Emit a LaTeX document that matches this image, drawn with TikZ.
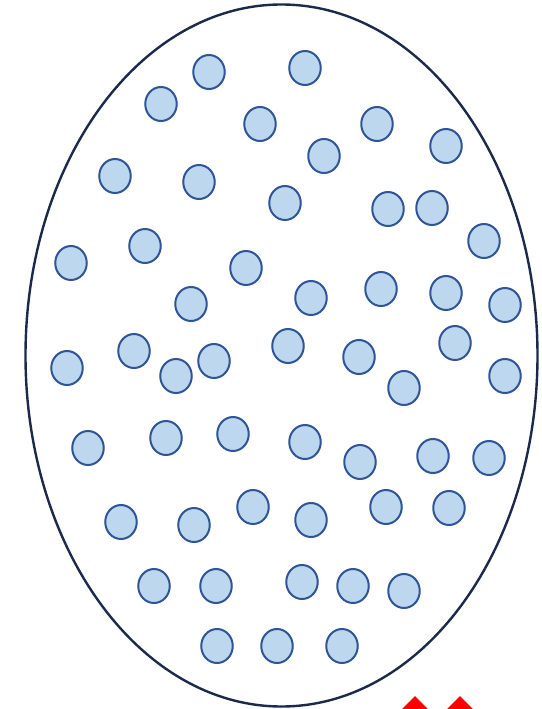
\documentclass[tikz,border=0pt]{standalone}
\usepackage{tikz}
\usetikzlibrary{shapes.geometric}
\definecolor{cellfill}{HTML}{BDD7EE}
\definecolor{celledge}{HTML}{2F5597}
\definecolor{membrane}{HTML}{1B2A4A}
\definecolor{marker}{HTML}{FF0000}
\begin{document}
\begin{tikzpicture}[
    x=1pt, y=-1pt,
    cell/.style={
      ellipse, draw=celledge, fill=cellfill, line width=2pt,
      minimum width=31.5pt, minimum height=34pt, inner sep=0pt
    },
    outline/.style={draw=membrane, line width=2.4pt},
    tip/.style={diamond, fill=marker, minimum size=30pt, inner sep=0pt}
]
  \useasboundingbox (0,0) rectangle (541,709);
  \clip (0,0) rectangle (541,709);

  % outer body
  \draw[outline] (281.5,355.5) ellipse [x radius=256, y radius=351];

  % cells
  \foreach \px/\py [count=\i] in {
      209/72, 305/68, 161/104, 260/124, 377/124, 446/146, 324/156,
      115/176, 199/182, 285/203, 388/209, 432/208, 484/241,
      71/263, 145/246, 246/268, 191/304, 311/298, 381/289, 446/293, 505/305,
      67/368, 134/351, 176/376, 214/361, 288/346, 359/357, 455/343, 404/388, 505/376,
      88/448, 166/438, 233/434, 305/442, 360/462, 433/456, 489/458,
      121/522, 194/525, 253/507, 311/520, 386/507, 449/508,
      154/586, 216/586, 302/582, 353/586, 404/591,
      217/646, 277/646, 342/646}
    \node[cell] (c\i) at (\px,\py) {};

  % red markers at the lower edge
  \node[tip] (m1) at (415,711) {};
  \node[tip] (m2) at (460,711) {};
\end{tikzpicture}
\end{document}
